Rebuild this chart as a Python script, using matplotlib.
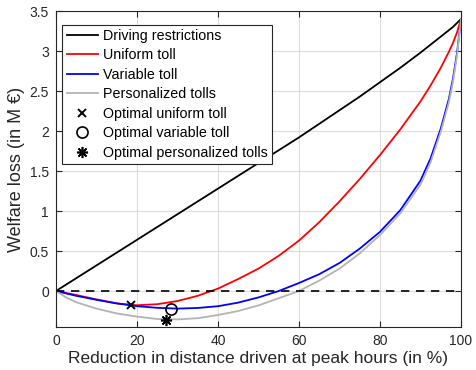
import numpy as np
import matplotlib.pyplot as plt
from matplotlib.ticker import FormatStrFormatter

# ---------- data ----------
reduction = [0, 2.5, 5, 10, 15, 20, 25, 30, 35, 40, 45, 50, 55, 60, 65, 70, 75,
             80, 85, 90, 92.5, 95, 97, 98, 99, 100]

driving_restrictions = [0.0, 0.08, 0.16, 0.32, 0.48, 0.64, 0.80, 0.96, 1.12, 1.28,
                        1.44, 1.60, 1.76, 1.92, 2.09, 2.26, 2.43, 2.61, 2.79, 2.98,
                        3.08, 3.18, 3.26, 3.30, 3.35, 3.40]
uniform_toll = [0.0, -0.025, -0.05, -0.105, -0.155, -0.178, -0.165, -0.125, -0.06, 0.03,
                0.15, 0.28, 0.44, 0.63, 0.86, 1.12, 1.40, 1.70, 2.02, 2.37,
                2.57, 2.79, 2.99, 3.10, 3.23, 3.40]
variable_toll = [0.0, -0.03, -0.06, -0.11, -0.155, -0.19, -0.21, -0.22, -0.212, -0.19,
                 -0.145, -0.08, 0.0, 0.10, 0.21, 0.35, 0.53, 0.74, 1.01, 1.38,
                 1.66, 2.03, 2.40, 2.65, 2.97, 3.40]
personalized_tolls = [0.0, -0.08, -0.14, -0.22, -0.28, -0.32, -0.35, -0.355, -0.34, -0.30,
                      -0.25, -0.18, -0.09, 0.00, 0.13, 0.28, 0.47, 0.70, 0.97, 1.33,
                      1.61, 1.99, 2.36, 2.61, 2.94, 3.40]

opt_uniform = (18.5, -0.18)
opt_variable = (28.4, -0.22)
opt_personalized = (27.2, -0.36)

# ---------- style ----------
plt.rcParams['font.family'] = ['Liberation Sans', 'DejaVu Sans']
dark = '#262626'

fig = plt.figure(figsize=(4.76, 3.70), dpi=100)
ax = fig.add_axes([0.1176, 0.1162, 0.8509, 0.854])

ax.plot(reduction, driving_restrictions, color='black', lw=1.3, label='Driving restrictions')
ax.plot(reduction, uniform_toll, color='red', lw=1.3, label='Uniform toll')
ax.plot(reduction, variable_toll, color='blue', lw=1.3, label='Variable toll')
ax.plot(reduction, personalized_tolls, color='#b3b3b3', lw=1.3, label='Personalized tolls')
ax.plot([0, 100], [0, 0], color='black', lw=1.2, ls=(0, (5, 4)))

ax.plot(*opt_uniform, ls='none', marker='x', ms=6, mew=1.4, color='black',
        label='Optimal uniform toll')
ax.plot(*opt_variable, ls='none', marker='o', ms=8, mew=1.2, mfc='none', color='black',
        label='Optimal variable toll')
ax.plot(*opt_personalized, ls='none', marker=(8, 2, 0), ms=8, mew=1.2, color='black',
        label='Optimal personalized tolls')

ax.set_xlim(0, 100)
ax.set_ylim(-0.45, 3.5)
ax.set_xticks(np.arange(0, 101, 20))
ax.set_yticks(np.arange(0, 3.51, 0.5))
ax.yaxis.set_major_formatter(FormatStrFormatter('%g'))

ax.grid(True, color='#dcdcdc', lw=0.8)
ax.set_axisbelow(True)
for s in ax.spines.values():
    s.set_color(dark)
    s.set_linewidth(0.8)
ax.tick_params(direction='in', top=True, right=True, length=4, width=0.8,
               colors=dark, labelsize=10, labelcolor=dark, pad=5)

ax.set_xlabel('Reduction in distance driven at peak hours (in %)', fontsize=12.5,
              color=dark, labelpad=2)
ax.set_ylabel('Welfare loss (in M €)', fontsize=13, color=dark, labelpad=3)

leg = ax.legend(loc='upper left', bbox_to_anchor=(0.016, 0.957), fontsize=10.3,
                frameon=True, fancybox=False, framealpha=1, edgecolor=dark,
                borderpad=0.3, labelspacing=0.38, handlelength=2.2, handletextpad=0.3,
                borderaxespad=0)
leg.get_frame().set_linewidth(0.8)

fig.savefig('out.png', dpi=100)
